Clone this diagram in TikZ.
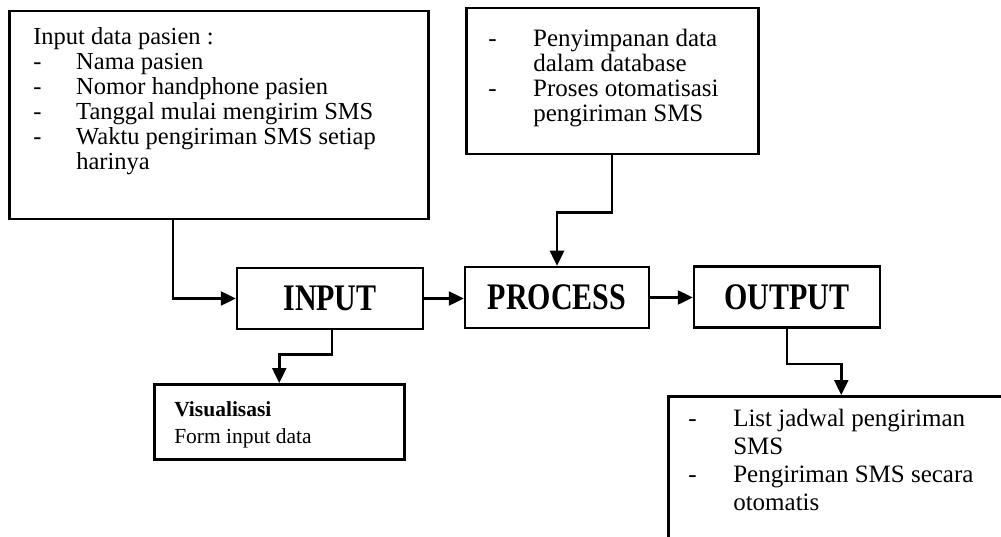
\documentclass[tikz,border=0pt]{standalone}
\usepackage{fontspec}
\setmainfont{Liberation Serif}
\usepackage{graphicx}
\usepackage{tikz}
\usetikzlibrary{positioning,calc,arrows.meta}

\begin{document}
\begin{tikzpicture}[x=1pt,y=-1pt,
    stage/.style={rectangle,draw,line width=2.5pt,minimum width=186pt,minimum height=61pt,font=\fontsize{30}{30}\selectfont\bfseries},
    note/.style={rectangle,draw,line width=2.5pt,inner sep=0pt,anchor=north west},
    link/.style={-{Triangle[length=15pt,width=14pt]},line width=2.5pt}]

\clip (0,0) rectangle (1001,537);

\node[note] (data) at (8,10) {\parbox[c][208pt][t]{419pt}{\leftskip=24pt\fontsize{24.5}{25}\selectfont
    \rule{0pt}{33pt}Input data pasien :\\
    \makebox[43pt][l]{-}Nama pasien\\
    \makebox[43pt][l]{-}Nomor handphone pasien\\
    \makebox[43pt][l]{-}Tanggal mulai mengirim SMS\\
    \makebox[43pt][l]{-}Waktu pengiriman SMS setiap\\
    \hspace*{43pt}harinya}};

\node[note] (store) at (465,7) {\parbox[c][146pt][t]{292pt}{\leftskip=22pt\fontsize{25}{25}\selectfont
    \rule{0pt}{38pt}\makebox[45pt][l]{-}Penyimpanan data\\
    \hspace*{45pt}dalam database\\
    \makebox[45pt][l]{-}Proses otomatisasi\\
    \hspace*{45pt}pengiriman SMS}};

\node[stage] (input) at (330,298.5) {\scalebox{1}[1.25]{INPUT}};
\node[stage,minimum width=184pt] (process) at (557,297.5) {\scalebox{1}[1.25]{PROCESS}};
\node[stage] (output) at (787,297) {\scalebox{1}[1.25]{OUTPUT}};

\node[note] (visual) at (153,383) {\parbox[c][75pt][t]{250pt}{\leftskip=20pt\fontsize{21.5}{27}\selectfont
    \rule{0pt}{32pt}\textbf{Visualisasi}\\
    Form input data}};

\node[note] (result) at (667,395) {\parbox[c][160pt][t]{346pt}{\leftskip=20pt\fontsize{25}{28}\selectfont
    \rule{0pt}{30pt}\makebox[45pt][l]{-}List jadwal pengiriman\\
    \hspace*{45pt}SMS\\
    \makebox[45pt][l]{-}Pengiriman SMS secara\\
    \hspace*{45pt}otomatis}};

\draw[link] ([xshift=165pt]data.south west) |- (input.west);
\draw[link] ([xshift=147pt]store.south west) -- ++(0,57) -| (process.north);
\draw[link] (input.east) -- (input.east -| process.west);
\draw[link] (process.east) -- (process.east -| output.west);
\draw[link] ([xshift=2pt]input.south) -- ++(0,24) -| (visual.north);
\draw[link] (output.south) -- ++(0,35) -| (result.north);

\end{tikzpicture}
\end{document}
